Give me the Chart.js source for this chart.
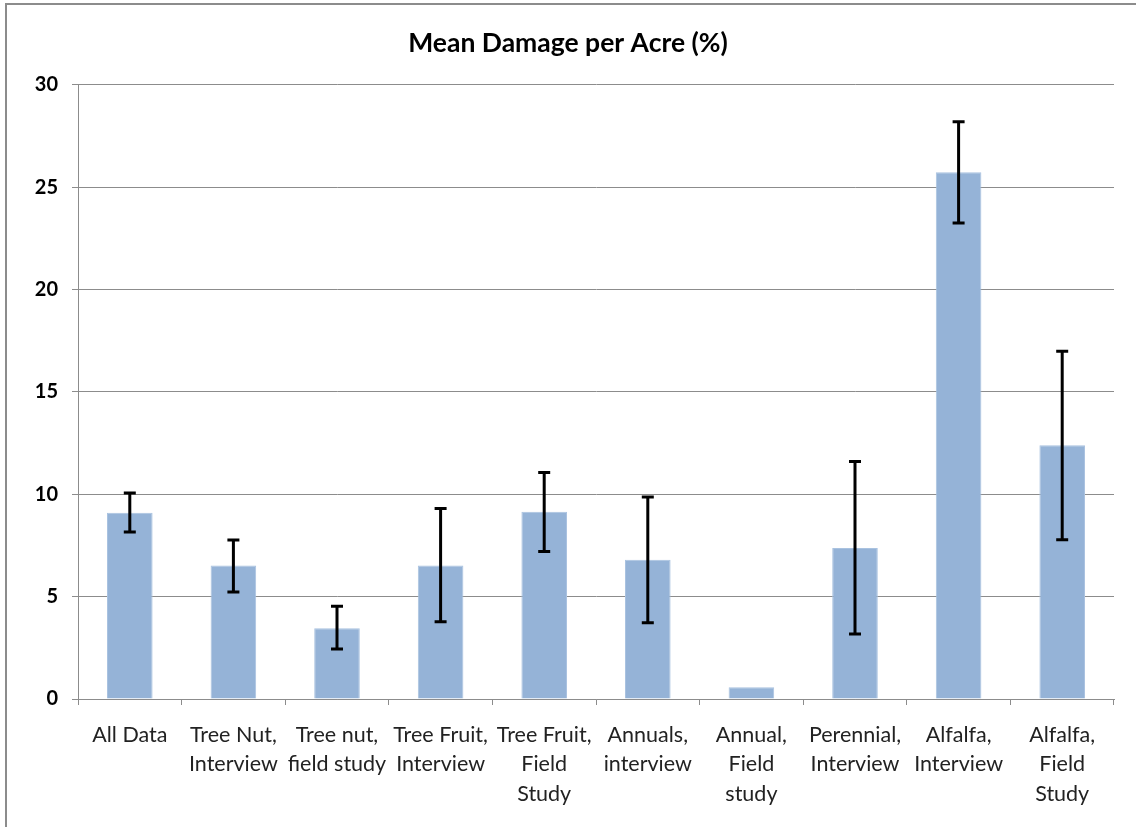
<!DOCTYPE html>
<html>
<head>
<meta charset="utf-8">
<script src="https://cdn.jsdelivr.net/npm/chart.js@4/dist/chart.umd.min.js"></script>
<style>
  html, body { margin: 0; padding: 0; background: #fff; }
  #wrap { position: relative; width: 1136px; height: 827px; }
</style>
</head>
<body>
<div id="wrap"><canvas id="chart" width="1136" height="827"></canvas></div>
<script>
const categories = [
  'All Data',
  ['Tree Nut,', 'Interview'],
  ['Tree nut,', 'field study'],
  ['Tree Fruit,', 'Interview'],
  ['Tree Fruit,', 'Field', 'Study'],
  ['Annuals,', 'interview'],
  ['Annual,', 'Field', 'study'],
  ['Perennial,', 'Interview'],
  ['Alfalfa,', 'Interview'],
  ['Alfalfa,', 'Field', 'Study']
];
const meanDamage = [9.1, 6.52, 3.46, 6.52, 9.15, 6.8, 0.57, 7.38, 25.73, 12.4];
const errorHigh = [10.06, 7.77, 4.53, 9.3, 11.06, 9.87, null, 11.6, 28.2, 16.99];
const errorLow = [8.16, 5.23, 2.44, 3.77, 7.2, 3.72, null, 3.18, 23.25, 7.78];

const FONT = 'Lato, "Open Sans", sans-serif';

// outer frame of the original chart, only left and top edges visible
const framePlugin = {
  id: 'frame',
  beforeDraw(chart) {
    const ctx = chart.ctx;
    ctx.save();
    ctx.strokeStyle = '#8c8c8c';
    ctx.lineWidth = 2;
    ctx.beginPath();
    ctx.moveTo(6, chart.height);
    ctx.lineTo(6, 4);
    ctx.lineTo(chart.width, 4);
    ctx.stroke();
    ctx.restore();
  }
};

// error bars drawn through the y scale
const errorBarPlugin = {
  id: 'errorBars',
  afterDatasetsDraw(chart) {
    const ctx = chart.ctx;
    const y = chart.scales.y;
    const meta = chart.getDatasetMeta(0);
    ctx.save();
    ctx.strokeStyle = '#000';
    ctx.lineWidth = 3;
    meta.data.forEach((bar, i) => {
      if (errorHigh[i] == null) return;
      const x = bar.x;
      const top = y.getPixelForValue(errorHigh[i]);
      const bottom = y.getPixelForValue(errorLow[i]);
      ctx.beginPath();
      ctx.moveTo(x, top);
      ctx.lineTo(x, bottom);
      ctx.moveTo(x - 6, top);
      ctx.lineTo(x + 6, top);
      ctx.moveTo(x - 6, bottom);
      ctx.lineTo(x + 6, bottom);
      ctx.stroke();
    });
    ctx.restore();
  }
};

new Chart(document.getElementById('chart'), {
  type: 'bar',
  data: {
    labels: categories,
    datasets: [{
      label: 'Mean Damage per Acre (%)',
      data: meanDamage,
      backgroundColor: '#95b3d7',
      borderColor: '#a9c2e0',
      borderWidth: 1,
      barPercentage: 0.44,
      categoryPercentage: 1
    }]
  },
  options: {
    responsive: false,
    animation: false,
    layout: { padding: 0 },
    plugins: {
      legend: { display: false },
      tooltip: { enabled: false },
      title: {
        display: true,
        text: 'Mean Damage per Acre (%)',
        color: '#000',
        font: { family: FONT, size: 26.5, weight: 'bold', lineHeight: 1.2 },
        padding: { top: 28, bottom: 25 }
      }
    },
    scales: {
      y: {
        min: 0,
        max: 30,
        ticks: {
          stepSize: 5,
          color: '#000',
          padding: 14,
          font: { family: FONT, size: 20, weight: 'bold' }
        },
        grid: { color: '#8c8c8c', lineWidth: 1, tickLength: 6 },
        border: { color: '#8c8c8c', width: 1 },
        afterFit(scale) { scale.width = 78; }
      },
      // empty right axis, only reserves the right margin
      yRight: {
        position: 'right',
        min: 0,
        max: 30,
        ticks: { display: false },
        grid: { display: false },
        border: { display: false },
        afterFit(scale) { scale.width = 22; }
      },
      x: {
        offset: true,
        ticks: {
          color: '#222',
          padding: 16,
          maxRotation: 0,
          autoSkip: false,
          font: { family: FONT, size: 21.5, lineHeight: 1.35 }
        },
        grid: { offset: true, drawOnChartArea: false, color: '#8c8c8c', tickLength: 6 },
        border: { color: '#8c8c8c', width: 1 },
        afterFit(scale) { scale.height = 128; }
      }
    }
  },
  plugins: [framePlugin, errorBarPlugin]
});
</script>
</body>
</html>
